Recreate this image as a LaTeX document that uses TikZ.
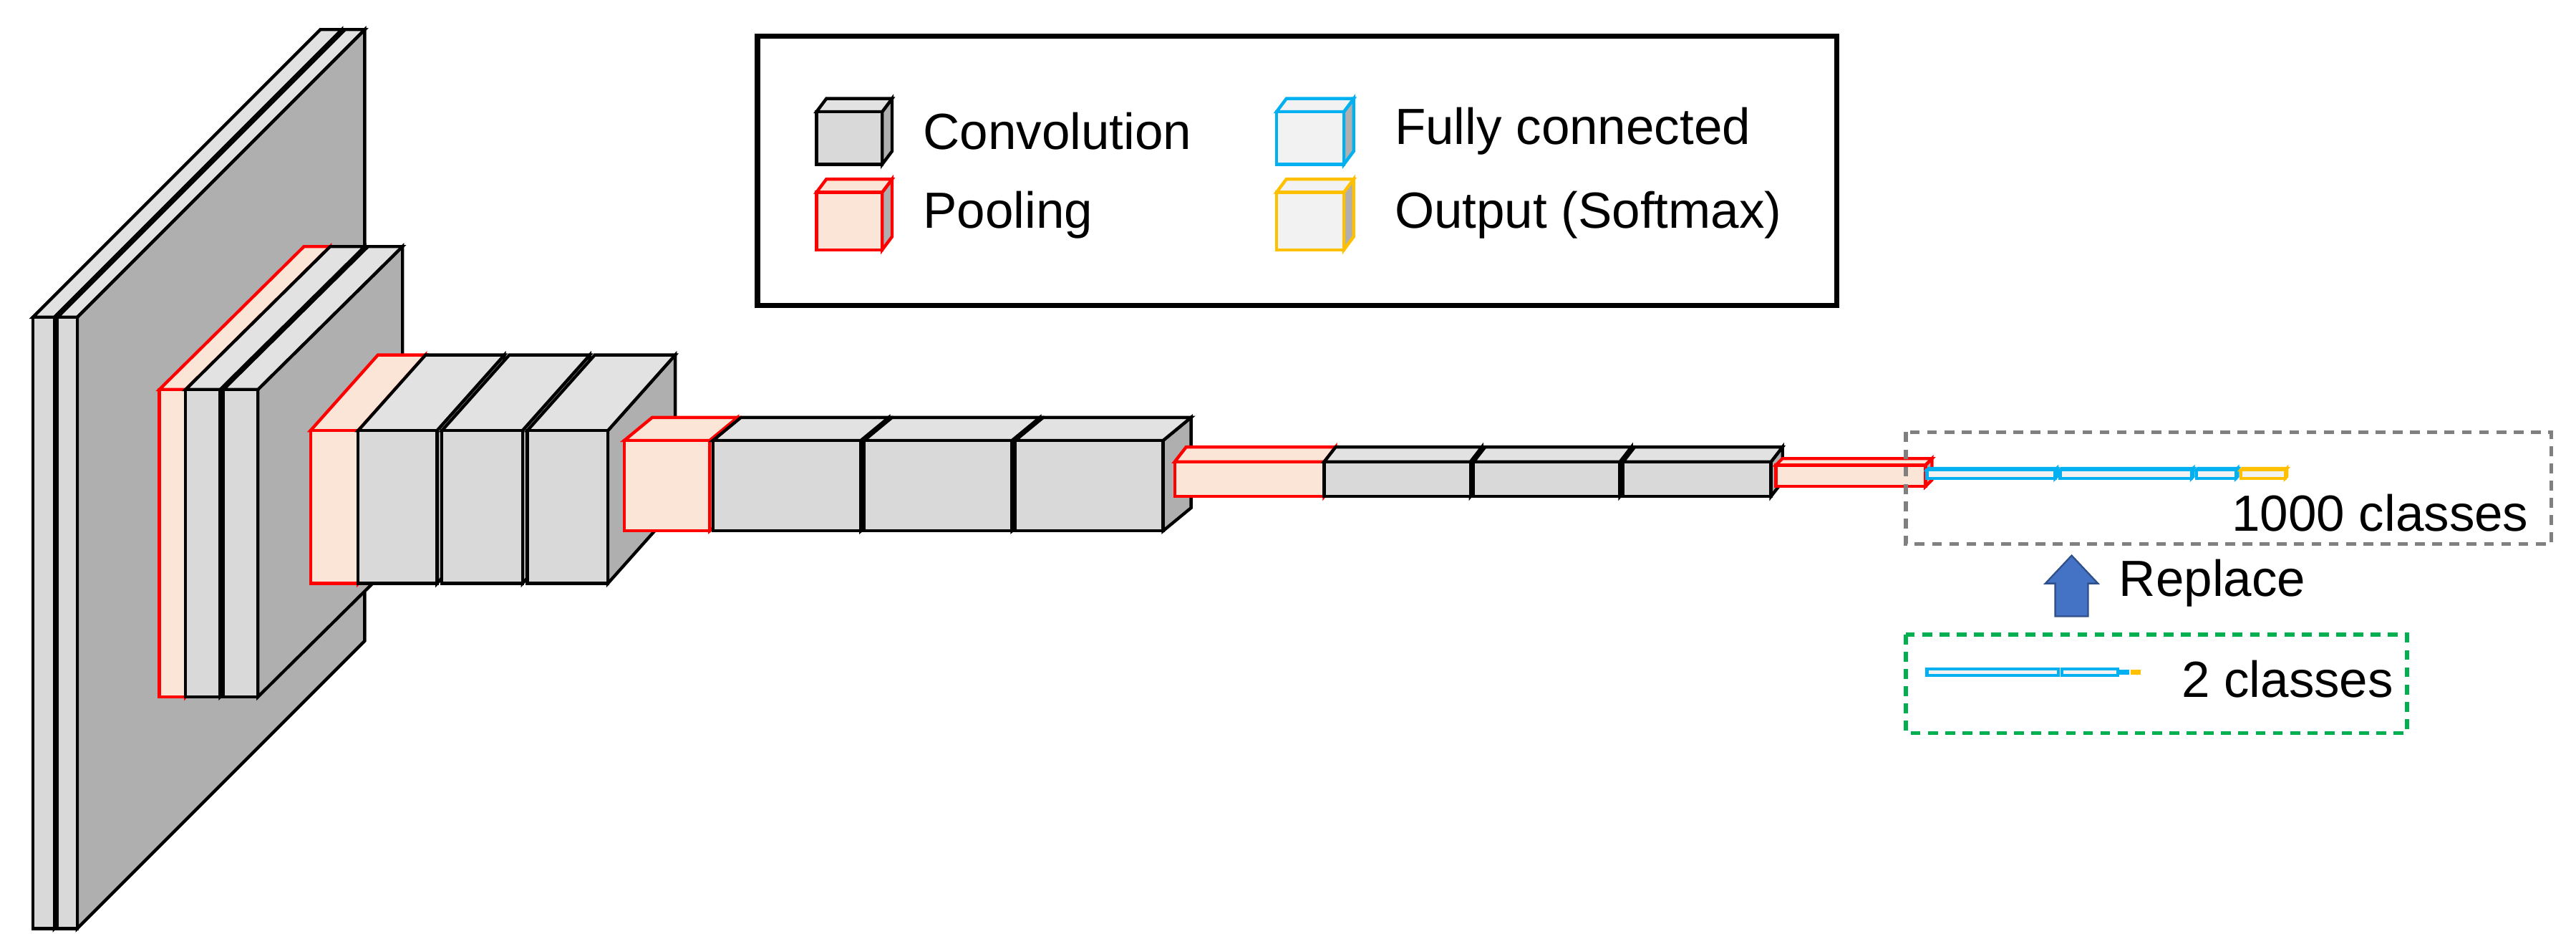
\documentclass[tikz,border=0pt]{standalone}
\usepackage{fontspec}
\setmainfont{Liberation Sans}
\definecolor{convF}{HTML}{D9D9D9}
\definecolor{convT}{HTML}{E2E2E2}
\definecolor{sideC}{HTML}{AFAFAF}
\definecolor{poolF}{HTML}{FBE5D6}
\definecolor{fcF}{HTML}{F2F2F2}
\definecolor{fcB}{HTML}{00B0F0}
\definecolor{outB}{HTML}{FFC000}
\definecolor{grn}{HTML}{00B050}
\definecolor{arr}{HTML}{4472C4}
\tikzset{
 conv front/.style={fill=convF,draw=black},
 conv top/.style={fill=convT,draw=black},
 conv side/.style={fill=sideC,draw=black},
 pool front/.style={fill=poolF,draw=red},
 pool top/.style={fill=poolF,draw=red},
 pool side/.style={fill=sideC,draw=red},
 fc front/.style={fill=fcF,draw=fcB},
 fc top/.style={fill=fcF,draw=fcB},
 fc side/.style={fill=sideC,draw=fcB},
 out front/.style={fill=fcF,draw=outB},
 out top/.style={fill=fcF,draw=outB},
 out side/.style={fill=sideC,draw=outB},
 lbl/.style={font=\fontsize{8.8}{10}\selectfont,inner sep=0pt},
 dbox/.style={line width=0.25mm,dash pattern=on 0.6mm off 0.45mm},
}
% \cub{xl}{xr}{ytop}{ybot}{dx}{dh}{kind}
\newcommand\cub[7]{%
 \path[#7 side,line join=miter] (#2,#3) -- ++(#5,-#6) -- ++(0,#4-#3) -- (#2,#4) -- cycle;
 \path[#7 top,line join=miter] (#1,#3) -- ++(#5,-#6) -- ++(#2-#1,0) -- (#2,#3) -- cycle;
 \path[#7 front] (#1,#3) rectangle (#2,#4);}
\begin{document}
\begin{tikzpicture}[x=0.1mm,y=-0.1mm,line width=0.19mm]
\useasboundingbox (0,0) rectangle (1568,574);
% block 1
\cub{20}{33}{193}{565}{175}{175}{conv}
\cub{35}{47}{193}{565}{175}{175}{conv}
% block 2
\cub{97}{113}{237}{424}{88}{87}{pool}
\cub{113}{134}{237}{424}{88}{87}{conv}
\cub{136}{157}{237}{424}{88}{87}{conv}
% block 3
\cub{189}{218}{262}{355}{41}{46}{pool}
\cub{218}{266}{262}{355}{41}{46}{conv}
\cub{269}{318}{262}{355}{41}{46}{conv}
\cub{321}{370}{262}{355}{41}{46}{conv}
% block 4
\cub{380}{432}{268}{323}{17}{14}{pool}
\cub{434}{524}{268}{323}{17}{14}{conv}
\cub{526}{616}{268}{323}{17}{14}{conv}
\cub{618}{708}{268}{323}{17}{14}{conv}
% block 5
\cub{715}{806}{281}{302}{7}{9}{pool}
\cub{806}{895}{281}{302}{7}{9}{conv}
\cub{897}{986}{281}{302}{7}{9}{conv}
\cub{988}{1078}{281}{302}{7}{9}{conv}
% block 6
\cub{1081}{1172}{283}{296}{4}{4}{pool}
% FC 1000
\cub{1173}{1251}{286}{291}{1}{1}{fc}
\cub{1254}{1334}{286}{291}{1}{1}{fc}
\cub{1337}{1361}{286}{291}{1}{1}{fc}
\cub{1364}{1391}{286}{291}{1}{1}{out}
% gray dashed box
\draw[draw=gray,dbox] (1160,263) rectangle (1553,331);
\node[lbl,anchor=east] (c1000) at (1540,312) {1000 classes};
% replace arrow
\path[fill=arr,draw=arr!70!black,line width=0.1mm] (1251,375) -- (1251,355) -- (1245,355) -- (1261,338) -- (1277,355) -- (1271,355) -- (1271,375) -- cycle;
\node[lbl,anchor=west] (rep) at (1289,355) {Replace};
% green box
\draw[draw=grn,dbox] (1160,386) rectangle (1465,446);
\path[fc front] (1173,407) rectangle (1253,411);
\path[fc front] (1255,407) rectangle (1289,411);
\path[fill=fcB] (1290,407.5) rectangle (1296,410.5);
\path[fill=outB] (1297,407.5) rectangle (1303,410.5);
\node[lbl,anchor=west] (c2) at (1327,413) {2 classes};
% legend
\draw[line width=0.32mm] (461,22) rectangle (1118,186);
\cub{497}{537}{68}{100}{6}{8}{conv}
\cub{497}{537}{117}{152}{6}{8}{pool}
\cub{777}{818}{68}{100}{6}{8}{fc}
\cub{777}{818}{117}{152}{6}{8}{out}
\node[lbl,anchor=west] (lc) at (561,80) {Convolution};
\node[lbl,anchor=west] (lp) at (561,131) {Pooling};
\node[lbl,anchor=west] (lf) at (848,80) {Fully connected};
\node[lbl,anchor=west] (lo) at (848,131) {Output (Softmax)};
\end{tikzpicture}
\end{document}
